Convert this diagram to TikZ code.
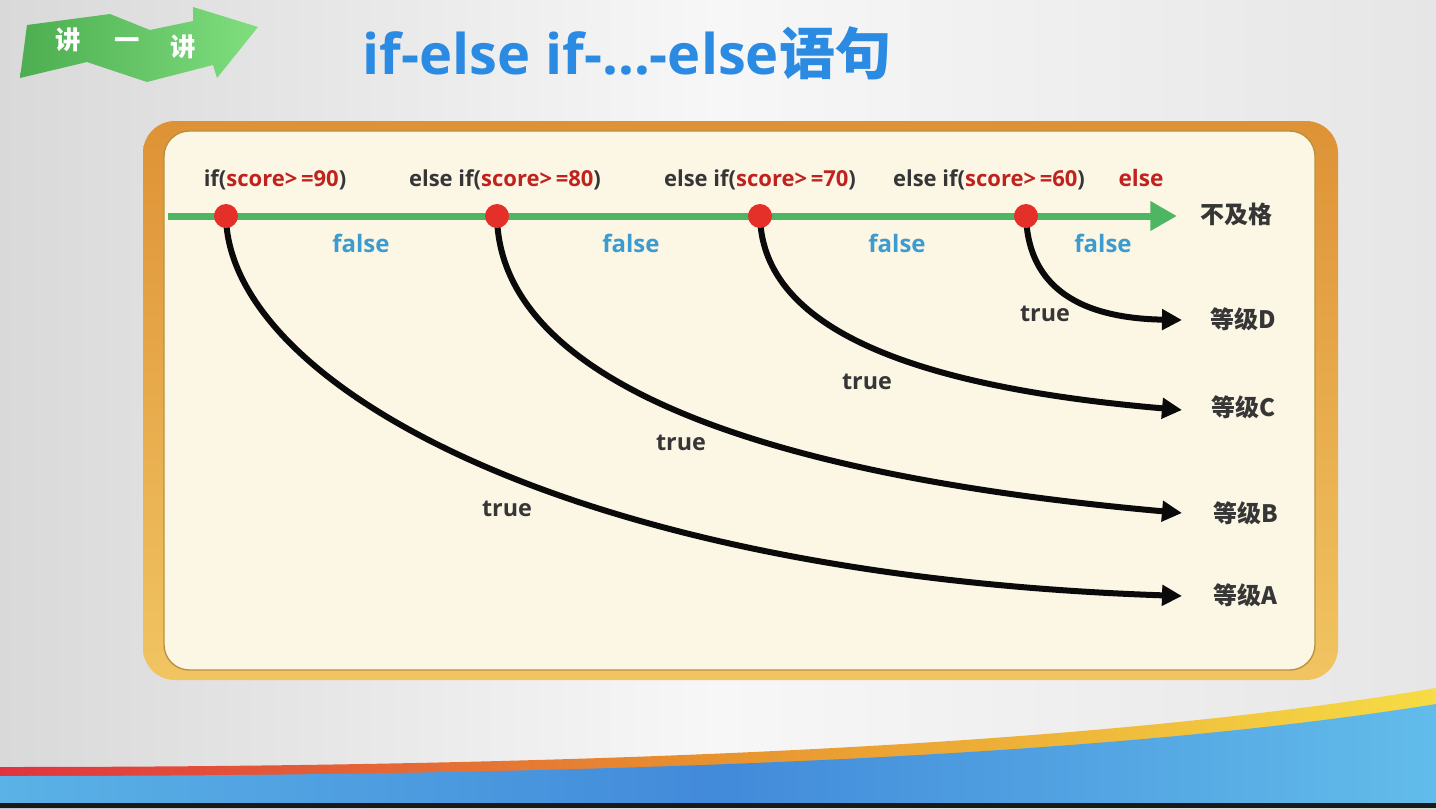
\documentclass[tikz,border=0pt]{standalone}
\usepackage{fontspec}
\setmainfont{Open Sans}
\newfontfamily\cjk{Noto Sans CJK SC}
\usetikzlibrary{arrows.meta}

\definecolor{bgl}{HTML}{D9D9D9}
\definecolor{bgm}{HTML}{F7F7F7}
\definecolor{bgr}{HTML}{E6E6E6}
\definecolor{bandred}{HTML}{E0333F}
\definecolor{bandorange}{HTML}{E8932F}
\definecolor{bandyellow}{HTML}{F6DC45}
\definecolor{bluel}{HTML}{5AB2E6}
\definecolor{bluem}{HTML}{428ADA}
\definecolor{bluer}{HTML}{62BCEA}
\definecolor{bannerl}{HTML}{4CAE50}
\definecolor{bannerr}{HTML}{80DE7E}
\definecolor{titleblue}{HTML}{2B8AE2}
\definecolor{frametop}{HTML}{DE9236}
\definecolor{framebot}{HTML}{F1C462}
\definecolor{innertop}{HTML}{FCEE9E}
\definecolor{innermid}{HTML}{FCF6E5}
\definecolor{innerbot}{HTML}{FDF0C8}
\definecolor{innerline}{HTML}{B8913F}
\definecolor{linegreen}{HTML}{4EB563}
\definecolor{dotred}{HTML}{E5302A}
\definecolor{txtdark}{HTML}{363636}
\definecolor{condred}{HTML}{C0221D}
\definecolor{falseblue}{HTML}{3D9CCF}
\definecolor{curveblack}{HTML}{0A0A0A}

\pgfdeclareverticalshading{innerfill}{100bp}{color(0bp)=(innerbot); color(10bp)=(innermid); color(78bp)=(innermid); color(100bp)=(innertop)}

\pgfdeclarelayer{back}
\pgfdeclarelayer{curves}
\pgfsetlayers{back,curves,main}

\begin{document}
\begin{tikzpicture}[x=0.75pt,y=-0.75pt,
  cond/.style={inner sep=0pt, anchor=base, text=txtdark, font=\fontsize{16.5}{19}\selectfont\bfseries},
  flabel/.style={inner sep=0pt, anchor=base, text=falseblue, font=\fontsize{18}{21}\selectfont\bfseries},
  tlabel/.style={inner sep=0pt, anchor=base, text=txtdark, font=\fontsize{17.5}{21}\selectfont\bfseries},
  grade/.style={inner sep=0pt, text=txtdark, font=\cjk\fontsize{18}{21}\selectfont\bfseries},
  bannertext/.style={inner sep=0pt, text=white, font=\cjk\fontsize{19}{22}\selectfont\bfseries},
  dot/.style={circle, fill=dotred, inner sep=0pt, minimum size=18pt},
  truearrow/.style={line width=4.5pt, draw=curveblack, -{Triangle[length=15pt,width=15pt]}},
]
\useasboundingbox (0,0) rectangle (1436,808);

\begin{pgfonlayer}{back}
  % page background
  \shade[left color=bgl, right color=bgr, middle color=bgm] (0,0) rectangle (1436,808);
  % bottom swoosh: coloured band and blue wave
  \shade[left color=bandred, right color=bandyellow, middle color=bandorange]
    (0,767) .. controls (600,767) and (1100,745) .. (1436,688) -- (1436,808) -- (0,808) -- cycle;
  \shade[left color=bluel, right color=bluer, middle color=bluem]
    (0,776) .. controls (600,776) and (1100,758) .. (1436,704) -- (1436,808) -- (0,808) -- cycle;
  \fill[black!90] (0,803) rectangle (1436,808);
  % banner arrow
  \shade[left color=bannerl, right color=bannerr]
    (27,25) -- (110,14) -- (150,30) -- (193,21) -- (193,7) -- (258,27) -- (217,78)
    -- (213,65) -- (147,82) -- (87,62) -- (20,78) -- cycle;
  % framed panel
  \shade[top color=frametop, bottom color=framebot, rounded corners=24pt] (143,121) rectangle (1338,680);
  \shade[shading=innerfill, rounded corners=19pt] (164,131) rectangle (1315,670);
  \draw[innerline, line width=1pt, rounded corners=19pt] (164,131) rectangle (1315,670);
\end{pgfonlayer}

% banner and title
\node[bannertext] (b1) at (68,40) {讲};
\node[bannertext] (b2) at (127,44) {一};
\node[bannertext] (b3) at (183,47) {讲};
\node[anchor=base, inner sep=0pt, text=titleblue, font=\fontsize{42}{50}\selectfont\bfseries]
  (title) at (627,74) {if-else if-…-else{\cjk\bfseries 语句}};

% false path
\coordinate (gs) at (168,216);
\coordinate (ge) at (1177,216);
\draw[line width=5.25pt, draw=linegreen, -{Triangle[length=20pt,width=21pt]}] (gs) -- (ge);

% decision points
\node[dot] (d1) at (226,216) {};
\node[dot] (d2) at (497,216) {};
\node[dot] (d3) at (760,216) {};
\node[dot] (d4) at (1026,216) {};

% conditions
\node[cond] (c1) at (275,186) {if(\textcolor{condred}{score>\,=90})};
\node[cond] (c2) at (505,186) {else if(\textcolor{condred}{score>\,=80})};
\node[cond] (c3) at (760,186) {else if(\textcolor{condred}{score>\,=70})};
\node[cond] (c4) at (989,186) {else if(\textcolor{condred}{score>\,=60})};
\node[cond, text=condred, font=\fontsize{17}{20}\selectfont\bfseries] (els) at (1141,186) {else};

% outcomes
\node[grade] (fail) at (1236,214) {不及格};
\node[grade] (gD) at (1243,319) {等级D};
\node[grade] (gC) at (1243,407) {等级C};
\node[grade] (gB) at (1246,513) {等级B};
\node[grade] (gA) at (1245,595) {等级A};

\coordinate (tD) at (1182,320);
\coordinate (tC) at (1182,410);
\coordinate (tB) at (1182,513);
\coordinate (tA) at (1182,596);

% true branches
\begin{pgfonlayer}{curves}
  \draw[truearrow] (d1.center) .. controls (228,380) and (560,575) .. (tA);
  \draw[truearrow] (d2.center) .. controls (499,360) and (700,470) .. (tB);
  \draw[truearrow] (d3.center) .. controls (762,320) and (890,385) .. (tC);
  \draw[truearrow] (d4.center) .. controls (1028,280) and (1070,318) .. (tD);
\end{pgfonlayer}

% branch labels
\node[flabel] (f1) at (361,252) {false};
\node[flabel] (f2) at (631,252) {false};
\node[flabel] (f3) at (897,252) {false};
\node[flabel] (f4) at (1103,252) {false};
\node[tlabel] (t1) at (507,516) {true};
\node[tlabel] (t2) at (681,450) {true};
\node[tlabel] (t3) at (867,389) {true};
\node[tlabel] (t4) at (1045,321) {true};
\end{tikzpicture}
\end{document}
